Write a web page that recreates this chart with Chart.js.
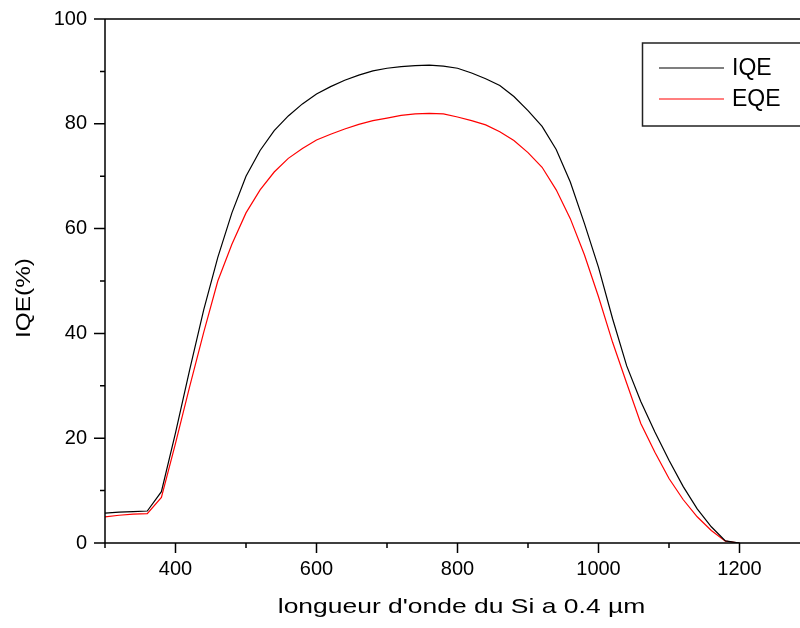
<!DOCTYPE html>
<html>
<head>
<meta charset="utf-8">
<script src="https://cdn.jsdelivr.net/npm/chart.js@4.4.1/dist/chart.umd.min.js"></script>
<style>
  html, body { margin: 0; padding: 0; background: #fff; overflow: hidden; width: 800px; height: 628px; }
  canvas { display: block; }
</style>
</head>
<body>
<canvas id="c" width="810" height="628"></canvas>
<script>
// Wavelength grid (nm) and quantum efficiencies (%)
const wavelengths = [300, 320, 340, 360, 380, 400, 420, 440, 460, 480,
                     500, 520, 540, 560, 580, 600, 620, 640, 660, 680,
                     700, 720, 740, 760, 780, 800, 820, 840, 860, 880,
                     900, 920, 940, 960, 980, 1000, 1020, 1040, 1060, 1080,
                     1100, 1120, 1140, 1160, 1180, 1200];
const iqeValues = [5.7, 5.9, 6.0, 6.1, 9.8, 21.0, 33.0, 44.5, 54.5, 63.0,
                   70.0, 74.9, 78.7, 81.5, 83.8, 85.7, 87.1, 88.3, 89.3, 90.1,
                   90.6, 90.9, 91.1, 91.2, 91.0, 90.6, 89.7, 88.6, 87.3, 85.2,
                   82.5, 79.5, 75.1, 68.9, 61.0, 52.6, 42.8, 33.8, 27.0, 21.2,
                   15.8, 10.8, 6.5, 3.1, 0.4, 0.0];
const eqeValues = [5.0, 5.3, 5.5, 5.6, 8.7, 19.0, 29.8, 40.2, 50.0, 57.0,
                   63.0, 67.4, 70.8, 73.4, 75.3, 76.9, 78.0, 79.0, 79.9, 80.6,
                   81.1, 81.6, 81.9, 82.0, 81.9, 81.3, 80.6, 79.8, 78.5, 76.8,
                   74.5, 71.7, 67.4, 61.9, 55.0, 47.0, 38.3, 30.5, 22.8, 17.3,
                   12.3, 8.3, 5.0, 2.4, 0.35, 0.0];

// Labelled ticks
const xTickLabels = [400, 600, 800, 1000, 1200];
const yTickLabels = [0, 20, 40, 60, 80, 100];

const seriesNames = ['IQE', 'EQE'];
const seriesColors = ['#000000', '#ff0000'];
const xTitle = "longueur d'onde du Si a 0.4 µm";
const yTitle = 'IQE(%)';

const FONT = "'Liberation Sans', Arial, Helvetica, sans-serif";

// Keep the plot box fixed: no extra room reserved for overhanging tick labels
function noOverhang(scale) {
  scale.paddingTop = 0;
  scale.paddingBottom = 0;
  scale.paddingLeft = 0;
  scale.paddingRight = 0;
}

// Axes with outward ticks, top border, axis titles and boxed legend
const framePlugin = {
  id: 'frame',
  afterDraw(chart) {
    const { ctx, chartArea: a, scales: { x, y } } = chart;
    ctx.save();
    ctx.strokeStyle = '#000';
    ctx.lineWidth = 1.5;
    ctx.beginPath();
    ctx.moveTo(a.left, a.top); ctx.lineTo(a.left, a.bottom);
    ctx.moveTo(a.left, a.bottom); ctx.lineTo(a.right, a.bottom);
    ctx.moveTo(a.left - 11, a.top); ctx.lineTo(a.right, a.top);
    ctx.moveTo(a.right, a.top); ctx.lineTo(a.right, a.bottom);
    x.ticks.forEach(t => {
      const px = x.getPixelForValue(t.value);
      const len = xTickLabels.includes(t.value) ? 10 : 5;
      ctx.moveTo(px, a.bottom); ctx.lineTo(px, a.bottom + len);
    });
    y.ticks.forEach(t => {
      const py = y.getPixelForValue(t.value);
      const len = yTickLabels.includes(t.value) ? 11 : 5;
      ctx.moveTo(a.left, py); ctx.lineTo(a.left - len, py);
    });
    ctx.stroke();

    // axis titles
    ctx.fillStyle = '#000';
    ctx.font = '21px ' + FONT;
    ctx.textAlign = 'center';
    ctx.textBaseline = 'alphabetic';
    ctx.save();
    ctx.translate(461.5, 613);
    ctx.scale(1.26, 1);
    ctx.fillText(xTitle, 0, 0);
    ctx.restore();

    ctx.save();
    ctx.font = '20px ' + FONT;
    ctx.translate(24, 298);
    ctx.rotate(-Math.PI / 2);
    ctx.scale(1.22, 1);
    ctx.textBaseline = 'middle';
    ctx.fillText(yTitle, 0, 0);
    ctx.restore();

    // legend
    const bx = 642.5, by = 43, bw = 170, bh = 83;
    ctx.lineWidth = 1.5;
    ctx.strokeStyle = '#222';
    ctx.strokeRect(bx, by, bw, bh);
    ctx.font = '23px ' + FONT;
    ctx.textAlign = 'left';
    ctx.textBaseline = 'middle';
    chart.data.datasets.forEach((ds, i) => {
      const ly = 68 + i * 31;
      ctx.strokeStyle = ds.borderColor;
      ctx.lineWidth = 1.2;
      ctx.beginPath();
      ctx.moveTo(659, ly); ctx.lineTo(724, ly);
      ctx.stroke();
      ctx.fillStyle = '#000';
      ctx.fillText(ds.label, 732, ly + 1);
    });
    ctx.restore();
  }
};

const datasets = seriesNames.map((name, i) => ({
  label: name,
  data: wavelengths.map((w, k) => ({ x: w, y: (i === 0 ? iqeValues : eqeValues)[k] })),
  borderColor: seriesColors[i],
  borderWidth: 1.2,
  pointRadius: 0,
  tension: 0,
  fill: false
}));

new Chart(document.getElementById('c'), {
  type: 'line',
  data: { datasets },
  options: {
    responsive: false,
    animation: false,
    devicePixelRatio: 1,
    layout: { padding: { top: 19, left: 0, right: 0, bottom: 0 } },
    plugins: { legend: { display: false }, tooltip: { enabled: false } },
    scales: {
      x: {
        type: 'linear',
        min: 300,
        max: 1300,
        grid: { display: false, drawTicks: false },
        border: { display: false },
        afterFit(scale) { scale.height = 85; noOverhang(scale); },
        ticks: {
          stepSize: 100,
          autoSkip: false,
          maxRotation: 0,
          padding: 14,
          color: '#000',
          font: { family: FONT, size: 20 },
          callback: v => xTickLabels.includes(v) ? String(v) : ''
        }
      },
      y: {
        min: 0,
        max: 100,
        grid: { display: false, drawTicks: false },
        border: { display: false },
        afterFit(scale) { scale.width = 105; noOverhang(scale); },
        ticks: {
          stepSize: 10,
          autoSkip: false,
          padding: 18,
          color: '#000',
          font: { family: FONT, size: 20 },
          callback: v => yTickLabels.includes(v) ? String(v) : ''
        }
      }
    }
  },
  plugins: [framePlugin]
});
</script>
</body>
</html>
